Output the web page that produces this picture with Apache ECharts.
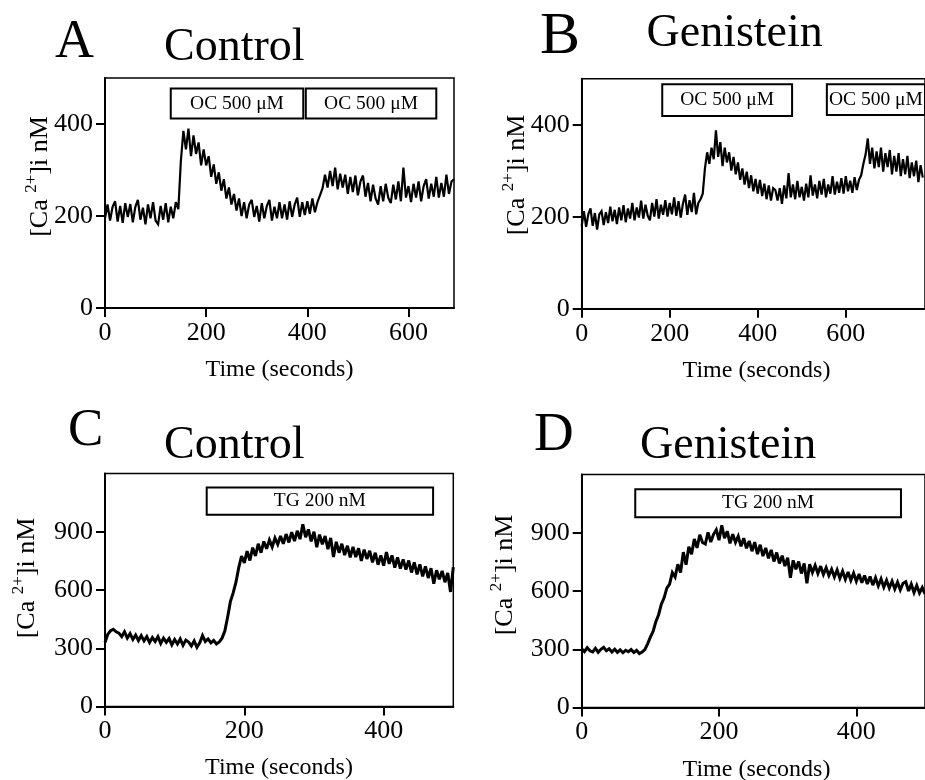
<!DOCTYPE html>
<html><head><meta charset="utf-8">
<script src="https://cdn.jsdelivr.net/npm/echarts@6/dist/echarts.min.js"></script>
<style>html,body{margin:0;padding:0;background:#fff}#c{width:925px;height:780px}</style>
</head><body><div id="c"></div>
<script>
// ---------- data ----------
const panelLetters = ['A', 'B', 'C', 'D'];
const panelTitles = ['Control', 'Genistein', 'Control', 'Genistein'];
const yTitleParts = ['[Ca ', '2+', ']i nM'];
const xTitle = 'Time (seconds)';

// sampling period (s) of each recording
const stepA = 5, stepB = 5, stepC = 4, stepD = 4;

// [Ca2+]i (nM)
const caA = [195,225,190,220,232,188,222,185,228,198,
 226,186,220,235,192,218,182,225,195,230,
 190,182,222,192,228,186,220,195,230,215,
 320,385,345,390,330,375,335,360,310,345,
 310,330,285,312,270,295,255,280,238,262,
 225,248,212,238,200,230,195,225,235,198,
 222,188,228,195,222,235,190,220,195,230,
 195,225,192,232,198,225,240,198,230,202,
 232,205,238,208,230,245,260,290,262,298,
 265,305,258,292,262,290,248,285,252,288,
 245,275,288,242,272,232,268,238,225,265,
 232,270,240,228,268,236,275,232,305,240,
 265,230,270,240,275,232,265,280,238,270,
 242,285,240,272,242,290,248,275,280];

const caB = [180,212,178,205,218,180,208,172,205,212,
 182,210,186,222,190,215,184,220,192,225,
 188,218,196,230,192,220,198,235,196,226,
 202,192,230,200,238,196,226,204,236,200,
 230,205,242,202,234,198,228,248,204,236,
 210,252,205,230,238,250,305,340,315,350,
 325,388,330,362,310,350,318,340,300,330,
 292,318,280,305,270,298,262,290,255,282,
 250,280,245,272,238,268,235,262,258,235,
 262,228,268,240,295,242,270,238,278,242,
 265,235,272,242,290,246,270,240,278,248,
 282,242,270,250,288,248,276,252,284,250,
 288,255,278,252,286,258,280,290,315,335,
 370,315,350,305,342,308,350,298,338,308,
 345,292,332,298,338,288,325,292,332,284,
 318,288,322,275,312,285];

const caC = [330,372,390,398,385,378,360,385,352,375,
 345,368,340,365,338,360,330,355,335,360,
 325,352,330,350,318,345,322,348,315,342,
 332,312,338,305,328,365,335,348,328,340,
 322,332,352,388,460,540,585,640,715,775,
 740,800,752,818,775,838,792,850,812,858,
 822,868,835,878,838,888,845,898,852,905,
 862,938,872,912,850,900,820,885,835,878,
 810,868,770,848,792,838,780,828,768,822,
 770,815,750,808,760,802,742,792,730,778,
 725,795,735,778,715,768,710,758,705,752,
 690,742,680,732,670,722,662,712,632,702,
 655,698,640,688,590,718];

const caD = [302,288,308,292,286,305,284,300,310,292,
 302,286,300,284,297,282,295,287,298,283,
 294,278,286,298,328,362,392,442,478,532,
 565,615,635,695,672,738,695,800,735,828,
 790,868,822,890,850,842,902,852,892,915,
 862,938,872,908,845,892,850,882,830,872,
 820,858,805,852,790,838,780,822,768,812,
 752,798,742,782,728,772,668,758,712,752,
 690,742,640,738,695,732,690,728,685,720,
 680,712,672,708,665,702,660,698,655,692,
 650,688,642,680,636,675,630,668,626,662,
 620,655,615,650,610,645,606,640,648,600,
 635,592,628,590,618,585];

// axis ranges and ticks
const xMax = [690, 780, 500, 500];
const yMax = [500, 500, 1200, 1200];
const xTicksAB = [0, 200, 400, 600];
const xTicksCD = [0, 200, 400];
const yTicksAB = [0, 200, 400];
const yTicksCD = [0, 300, 600, 900];

// drug application bars: [start s, end s, low nM, high nM, label]
const barsA = [[130, 392, 412, 477, 'OC 500 μM'], [397, 655, 412, 477, 'OC 500 μM']];
const barsB = [[183, 478, 419, 488, 'OC 500 μM'], [557, 780, 421, 488, 'OC 500 μM']];
const barsC = [[146, 471, 988, 1128, 'TG 200 nM']];
const barsD = [[78, 465, 980, 1124, 'TG 200 nM']];

// ---------- chart ----------
const FONT = "'Liberation Serif','Times New Roman',serif";
const traces = [[caA, stepA], [caB, stepB], [caC, stepC], [caD, stepD]];
const bars = [barsA, barsB, barsC, barsD];
const xTicks = [xTicksAB, xTicksAB, xTicksCD, xTicksCD];
const yTicks = [yTicksAB, yTicksAB, yTicksCD, yTicksCD];

const grids = [
  {left: 105, top: 78, width: 349, height: 230},
  {left: 581.7, top: 78.7, width: 345.2, height: 230},
  {left: 105, top: 473.5, width: 348.3, height: 233},
  {left: 581.7, top: 474.5, width: 349.3, height: 233}
].map(g => Object.assign(g, {show: true, borderColor: '#000', borderWidth: 1.5, backgroundColor: 'transparent'}));

function axisCommon(ticks) {
  return {
    type: 'value', min: 0,
    splitLine: {show: false},
    axisLine: {show: true, onZero: false, lineStyle: {color: '#000', width: 2}},
    axisTick: {show: true, inside: false, length: 9, lineStyle: {color: '#000', width: 2}, customValues: ticks},
    axisLabel: {customValues: ticks, color: '#000', fontSize: 26, fontFamily: FONT, margin: 12}
  };
}

const xAxis = [0,1,2,3].map(i => Object.assign(axisCommon(xTicks[i]), {gridIndex: i, max: xMax[i]}));
const yAxis = [0,1,2,3].map(i => Object.assign(axisCommon(yTicks[i]), {gridIndex: i, max: yMax[i]}));

const lineWidths = [2.2, 2.2, 3, 3];
const series = traces.map(([vals, step], i) => ({
  type: 'line', xAxisIndex: i, yAxisIndex: i, showSymbol: false, silent: true,
  lineStyle: {color: '#000', width: lineWidths[i], join: 'miter', miterLimit: 3},
  data: vals.map((v, k) => [k * step, v]),
  markArea: {
    silent: true,
    itemStyle: {color: '#fff', borderColor: '#000', borderWidth: 2},
    label: {show: true, position: 'inside', color: '#000', fontSize: 19.5, fontFamily: FONT},
    data: bars[i].map(b => [{name: b[4], coord: [b[0], b[2]]}, {coord: [b[1], b[3]]}])
  }
}));

function txt(text, x, y, size, align) {
  return {type: 'text', x: x, y: y, silent: true,
    style: {text: text, fontSize: size, fontFamily: FONT, fill: '#000', align: align || 'left', verticalAlign: 'middle'}};
}
function yTitle(x, y) {
  return {type: 'text', x: x, y: y, rotation: Math.PI / 2, silent: true,
    style: {
      text: '{a|' + yTitleParts[0] + '}{s|' + yTitleParts[1] + '}{a|' + yTitleParts[2] + '}',
      align: 'center', verticalAlign: 'middle',
      rich: {
        a: {fontSize: 26, fontFamily: FONT, lineHeight: 30, verticalAlign: 'bottom', fill: '#000'},
        s: {fontSize: 17, fontFamily: FONT, lineHeight: 30, verticalAlign: 'top', fill: '#000'}
      }
    }};
}

const graphic = [
  txt(panelLetters[0], 55, 43, 54),
  txt(panelTitles[0], 164, 48, 46),
  txt(panelLetters[1], 540, 37, 60),
  txt(panelTitles[1], 646.5, 33.5, 46),
  txt(panelLetters[2], 68, 431, 53),
  txt(panelTitles[2], 164, 445.5, 46),
  txt(panelLetters[3], 534, 436, 55),
  txt(panelTitles[3], 640, 446, 46),
  txt(xTitle, 279.5, 370, 24, 'center'),
  txt(xTitle, 756.5, 371, 24, 'center'),
  txt(xTitle, 279, 768, 24, 'center'),
  txt(xTitle, 756.5, 770, 24, 'center'),
  yTitle(38, 176.5),
  yTitle(515.5, 175),
  yTitle(25.5, 578),
  yTitle(503, 575)
];

const chart = echarts.init(document.getElementById('c'), null, {renderer: 'canvas'});
chart.setOption({
  animation: false,
  backgroundColor: '#fff',
  grid: grids, xAxis: xAxis, yAxis: yAxis, series: series, graphic: graphic
});
</script>
</body></html>
